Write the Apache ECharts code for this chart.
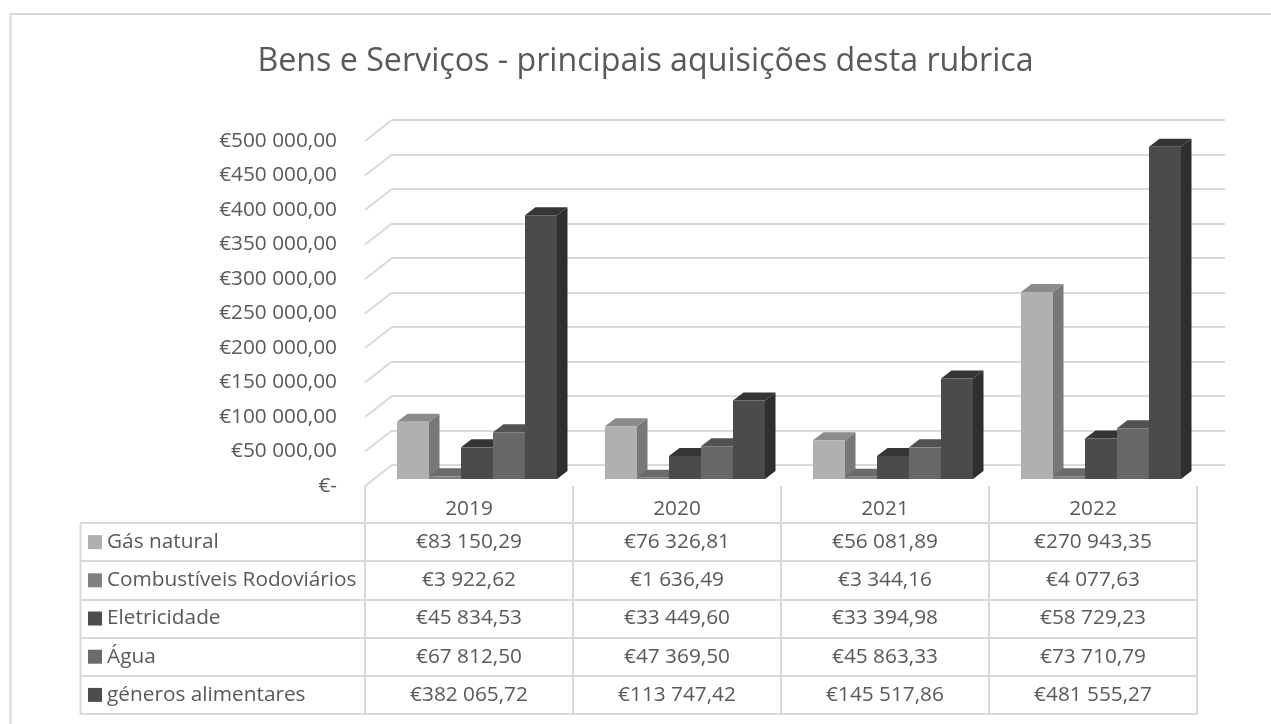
<!DOCTYPE html>
<html><head><meta charset="utf-8">
<style>html,body{margin:0;padding:0;background:#fff}#c{width:1271px;height:724px}</style>
<script src="https://cdn.jsdelivr.net/npm/echarts@6/dist/echarts.min.js"></script>
</head><body><div id="c"></div>
<script>
const titleText = 'Bens e Serviços - principais aquisições desta rubrica';
const years = ['2019','2020','2021','2022'];
const rubricas = ['Gás natural','Combustíveis Rodoviários','Eletricidade','Água','géneros alimentares'];
const gasNatural = [83150.29,76326.81,56081.89,270943.35];
const combustiveis = [3922.62,1636.49,3344.16,4077.63];
const eletricidade = [45834.53,33449.60,33394.98,58729.23];
const agua = [67812.50,47369.50,45863.33,73710.79];
const generos = [382065.72,113747.42,145517.86,481555.27];
const yTicks = [0,50000,100000,150000,200000,250000,300000,350000,400000,450000,500000];

const seriesValues = [gasNatural,combustiveis,eletricidade,agua,generos];
// front, top, side shades per rubrica
const shades = [
  ['#b0b0b0','#8b8b8b','#787878'],
  ['#808080','#6a6a6a','#5a5a5a'],
  ['#4b4b4b','#353535','#333333'],
  ['#686868','#525252','#484848'],
  ['#4b4b4b','#353535','#2f2f2f']
];
const swatches = ['#b0b0b0','#808080','#4d4d4d','#6b6b6b','#4d4d4d'];
const FONT = '"Open Sans","Noto Sans",sans-serif';
const TXT = '#595959', LINE = '#d9d9d9';
const FS = 20.8;

function money(v){
  const p = v.toFixed(2).split('.');
  return '€' + p[0].replace(/\B(?=(\d{3})+$)/g,' ') + ',' + p[1];
}

const BAR_DX = 8, BAR_DY = -7, DEPTH_X = 10.5, DEPTH_Y = -8, WALL_X = 27, WALL_Y = -21, BAR_SHARE = 160/208/5;

function barSeries(idx){
  const cols = shades[idx];
  return {
    type:'custom', name:rubricas[idx], xAxisIndex:0, yAxisIndex:0, z:3+idx,
    coordinateSystem:'cartesian2d',
    data: seriesValues[idx].map((v,i)=>[i,v]),
    encode:{x:0,y:1},
    renderItem(params,api){
      const top = api.coord([api.value(0),api.value(1)]);
      const base = api.coord([api.value(0),0]);
      const w = api.size([1,0])[0]*BAR_SHARE;
      const x0 = top[0]+BAR_DX+(idx-2.5)*w, x1 = x0+w;
      const y0 = top[1]+BAR_DY, y1 = base[1]+BAR_DY;
      const poly = (pts,fill)=>({type:'polygon',shape:{points:pts},style:{fill:fill}});
      return {type:'group',children:[
        poly([[x1,y0],[x1+DEPTH_X,y0+DEPTH_Y],[x1+DEPTH_X,y1+DEPTH_Y],[x1,y1]],cols[2]),
        poly([[x0,y0],[x0+DEPTH_X,y0+DEPTH_Y],[x1+DEPTH_X,y0+DEPTH_Y],[x1,y0]],cols[1]),
        poly([[x0,y0],[x1,y0],[x1,y1],[x0,y1]],cols[0])
      ]};
    }
  };
}

const rowRich = {};
swatches.forEach((c,i)=>{ rowRich['s'+i] = {width:14,height:14,backgroundColor:c}; });
rowRich.t = {fontFamily:FONT,fontSize:FS,color:TXT,padding:[0,0,0,5]};

const cells = [];
seriesValues.forEach((arr,r)=>arr.forEach((v,c)=>cells.push([c,r,v])));

const option = {
  animation:false, backgroundColor:'#fff',
  title:{text:titleText,left:640.5,top:41,textAlign:'center',
    textStyle:{fontFamily:FONT,fontSize:32.2,fontWeight:'normal',color:TXT}},
  graphic:[
    {type:'polyline',silent:true,shape:{points:[[10.5,724],[10.5,14],[1271,14]]},style:{stroke:LINE,lineWidth:2,fill:null}},
    {type:'line',silent:true,shape:{x1:80.5,y1:523,x2:80.5,y2:714},style:{stroke:LINE,lineWidth:2}}
  ],
  grid:[
    {left:365,right:74,top:141,bottom:238},
    {left:392,right:46,top:120,bottom:259},
    {left:365,right:74,top:523,bottom:10}
  ],
  xAxis:[
    {gridIndex:0,type:'category',data:years,
      axisLine:{show:false},
      axisTick:{show:true,length:37,lineStyle:{color:LINE,width:2}},
      axisLabel:{margin:13,fontFamily:FONT,fontSize:FS,color:TXT},splitLine:{show:false}},
    {gridIndex:1,type:'category',data:years,show:false},
    {gridIndex:2,type:'category',data:years,position:'top',
      axisLine:{show:false},axisTick:{show:false},axisLabel:{show:false},
      splitLine:{show:true,lineStyle:{color:LINE,width:2}}}
  ],
  yAxis:[
    {gridIndex:0,type:'value',min:0,max:500000,interval:50000,
      axisLine:{show:false},axisTick:{show:false},splitLine:{show:false},
      axisLabel:{margin:28,fontFamily:FONT,fontSize:FS,color:TXT,
        formatter:v=>v===0?'€-':money(v)}},
    {gridIndex:1,type:'value',min:0,max:500000,interval:50000,
      axisLine:{show:false},axisTick:{show:false},axisLabel:{show:false},
      splitLine:{show:true,lineStyle:{color:LINE,width:2}}},
    {gridIndex:2,type:'category',data:rubricas,inverse:true,
      axisLine:{show:false},
      axisTick:{show:true,length:285,lineStyle:{color:LINE,width:2}},
      splitLine:{show:true,lineStyle:{color:LINE,width:2}},
      axisLabel:{align:'left',margin:277,
        formatter:(v,i)=>'{s'+i+'|}{t|'+v+'}',rich:rowRich}}
  ],
  series:[
    {type:'custom',name:'paredes',xAxisIndex:0,yAxisIndex:0,z:1,silent:true,
      data:yTicks.map(v=>[0,v]),encode:{x:0,y:1},
      renderItem(params,api){
        const p = api.coord([0,api.value(1)]);
        const w = api.size([1,0])[0];
        const x = p[0]-w/2;
        return {type:'line',shape:{x1:x,y1:p[1],x2:x+WALL_X,y2:p[1]+WALL_Y},
          style:{stroke:LINE,lineWidth:2}};
      }},
    ...rubricas.map((_,i)=>barSeries(i)),
    {type:'custom',name:'tabela',xAxisIndex:2,yAxisIndex:2,z:10,silent:true,
      data:cells,encode:{x:0,y:1},
      renderItem(params,api){
        const p = api.coord([api.value(0),api.value(1)]);
        return {type:'text',x:p[0],y:p[1],style:{text:money(api.value(2)),
          fontFamily:FONT,fontSize:FS,fill:TXT,align:'center',verticalAlign:'middle'}};
      }}
  ]
};
echarts.init(document.getElementById('c'),null,{renderer:'canvas'}).setOption(option);
</script></body></html>
